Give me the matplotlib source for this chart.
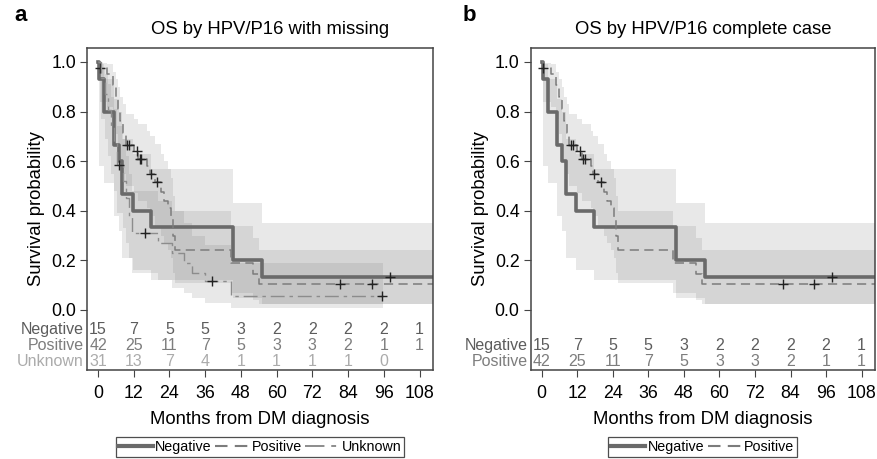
import matplotlib.pyplot as plt
from matplotlib.lines import Line2D
import numpy as np

plt.rcParams['font.family'] = ['Liberation Sans', 'DejaVu Sans']

# Kaplan-Meier steps (months, survival, lower CI, upper CI)
neg_t = [0, 0.3, 2.1, 5.3, 7.0, 8.2, 11.7, 17.8, 45.2, 55.2]
neg_s = [1.0, 0.933, 0.8, 0.667, 0.6, 0.467, 0.4, 0.333, 0.2, 0.133]
neg_lo = [1.0, 0.58, 0.51, 0.38, 0.32, 0.21, 0.16, 0.12, 0.05, 0.023]
neg_hi = [1.0, 0.99, 0.93, 0.85, 0.80, 0.69, 0.63, 0.57, 0.43, 0.35]
neg_cens = [98.0]

pos_t = [0, 0.5, 3.0, 5.0, 6.0, 6.8, 7.5, 8.5, 9.3, 12.0, 13.5, 16.5, 17.5, 19.0,
         21.0, 22.0, 23.5, 24.5, 25.2, 25.8, 44.5, 52.0, 54.0]
pos_s = [1.0, 0.976, 0.952, 0.905, 0.857, 0.81, 0.762, 0.714, 0.667, 0.64, 0.61, 0.58,
         0.55, 0.515, 0.475, 0.44, 0.41, 0.37, 0.30, 0.24, 0.19, 0.143, 0.104]
pos_lo = [1.0, 0.84, 0.82, 0.77, 0.71, 0.66, 0.60, 0.55, 0.50, 0.47, 0.44, 0.41, 0.38,
          0.34, 0.30, 0.27, 0.24, 0.21, 0.15, 0.11, 0.07, 0.04, 0.025]
pos_hi = [1.0, 0.997, 0.99, 0.96, 0.93, 0.90, 0.86, 0.83, 0.79, 0.77, 0.75, 0.72, 0.70,
          0.67, 0.63, 0.60, 0.57, 0.53, 0.46, 0.40, 0.34, 0.29, 0.24]
pos_cens = [0.6, 9.8, 10.5, 13.0, 14.1, 14.6, 17.8, 19.9, 81.3, 92.0]

unk_t = [0, 1.0, 2.5, 3.5, 4.5, 5.5, 6.5, 8.5, 9.5, 10.5, 11.5, 20.0, 25.0, 29.0,
         31.5, 36.0, 44.5]
unk_s = [1.0, 0.935, 0.87, 0.806, 0.742, 0.677, 0.586, 0.52, 0.45, 0.38, 0.309, 0.27,
         0.23, 0.19, 0.15, 0.115, 0.057]
unk_lo = [1.0, 0.77, 0.69, 0.62, 0.55, 0.48, 0.39, 0.33, 0.27, 0.21, 0.15, 0.12, 0.09,
          0.07, 0.05, 0.03, 0.008]
unk_hi = [1.0, 0.98, 0.95, 0.91, 0.86, 0.81, 0.74, 0.69, 0.62, 0.55, 0.48, 0.44, 0.40,
          0.35, 0.30, 0.26, 0.19]
unk_cens = [7.1, 15.8, 38.2, 95.3]
unk_end = 95.7

# numbers at risk
risk_times = [0, 12, 24, 36, 48, 60, 72, 84, 96, 108]
risk_neg = [15, 7, 5, 5, 3, 2, 2, 2, 2, 1]
risk_pos = [42, 25, 11, 7, 5, 3, 3, 2, 1, 1]
risk_unk = [31, 13, 7, 4, 1, 1, 1, 1, 0, None]

XMAX = 112.5
styles = {
    'Negative': dict(color='#6a6a6a', lw=2.6, ls='-', txt='#5c5c5c'),
    'Positive': dict(color='#7c7c7c', lw=1.1, ls=(0, (6, 3.5)), txt='#7d7d7d'),
    'Unknown': dict(color='#8c8c8c', lw=1.0, ls=(0, (10, 3.5, 2.5, 3.5)), txt='#ababab'),
}


def ext(t, v, end):
    return np.append(t, end), np.append(v, v[-1])


def km_panel(ax, groups, title, title_x=0.5):
    # confidence bands first
    for name, t, s, lo, hi, cens, end in groups:
        tt, ll = ext(t, lo, end)
        _, hh = ext(t, hi, end)
        ax.fill_between(tt, ll, hh, step='post', color='#808080', alpha=0.18, lw=0)
    for name, t, s, lo, hi, cens, end in groups:
        st = styles[name]
        tt, ss = ext(t, s, end)
        ax.step(tt, ss, where='post', color=st['color'], lw=st['lw'], ls=st['ls'])
        idx = np.searchsorted(t, cens, side='right') - 1
        ax.plot(cens, np.array(s)[idx], '+', color='#222222', ms=7, mew=1.0)

    ax.set_xlim(-3.7, XMAX)
    ax.set_ylim(-0.242, 1.056)
    ax.set_yticks([0, 0.2, 0.4, 0.6, 0.8, 1.0])
    ax.set_yticklabels(['0.0', '0.2', '0.4', '0.6', '0.8', '1.0'])
    ax.set_xticks(risk_times)
    ax.tick_params(labelsize=12.8, length=5, color='#444444')
    ax.tick_params(axis='x', pad=6)
    ax.tick_params(axis='y', pad=3)
    for sp in ax.spines.values():
        sp.set_color('#444444')
        sp.set_linewidth(1.1)
    ax.set_ylabel('Survival probability', fontsize=13.3, labelpad=4)
    ax.set_xlabel('Months from DM diagnosis', fontsize=13.3, labelpad=6)
    ax.set_title(title, fontsize=13.3, pad=10, x=title_x)

    # risk table inside the box, rows stacked from the bottom
    rows = [(g[0], {'Negative': risk_neg, 'Positive': risk_pos, 'Unknown': risk_unk}[g[0]])
            for g in groups]
    n = len(rows)
    for k, (name, vals) in enumerate(rows):
        y = -0.206 + 0.0645 * (n - 1 - k)
        col = styles[name]['txt']
        ax.text(-4.8, y, name, ha='right', va='center', fontsize=11.5, color=col)
        for xt, v in zip(risk_times, vals):
            if v is not None:
                ax.text(xt, y, str(v), ha='center', va='center', fontsize=11.5, color=col)

    handles = [Line2D([], [], color=styles[g[0]]['color'], lw=styles[g[0]]['lw'] + 0.4,
                      ls=styles[g[0]]['ls']) for g in groups]
    leg = ax.legend(handles, [g[0] for g in groups], loc='upper center',
                    bbox_to_anchor=(0.5, -0.208), ncol=len(groups), fontsize=10.3,
                    frameon=True, fancybox=False, edgecolor='#222222', handlelength=2.4,
                    handletextpad=0.15, columnspacing=0.25, borderpad=0.2,
                    borderaxespad=0)
    leg.get_frame().set_linewidth(0.9)


neg = ('Negative', neg_t, neg_s, neg_lo, neg_hi, neg_cens, XMAX)
pos = ('Positive', pos_t, pos_s, pos_lo, pos_hi, pos_cens, XMAX)
unk = ('Unknown', unk_t, unk_s, unk_lo, unk_hi, unk_cens, unk_end)

fig = plt.figure(figsize=(8.77, 4.59), dpi=100)
ax1 = fig.add_axes([0.0992, 0.1939, 0.3945, 0.7015])
ax2 = fig.add_axes([0.6051, 0.1939, 0.3926, 0.7015])

km_panel(ax1, [neg, pos, unk], 'OS by HPV/P16 with missing', title_x=0.53)
km_panel(ax2, [neg, pos], 'OS by HPV/P16 complete case')

fig.text(0.016, 0.966, 'a', fontsize=16, fontweight='bold', va='center')
fig.text(0.527, 0.966, 'b', fontsize=16, fontweight='bold', va='center')

fig.savefig('out.png', dpi=100)
